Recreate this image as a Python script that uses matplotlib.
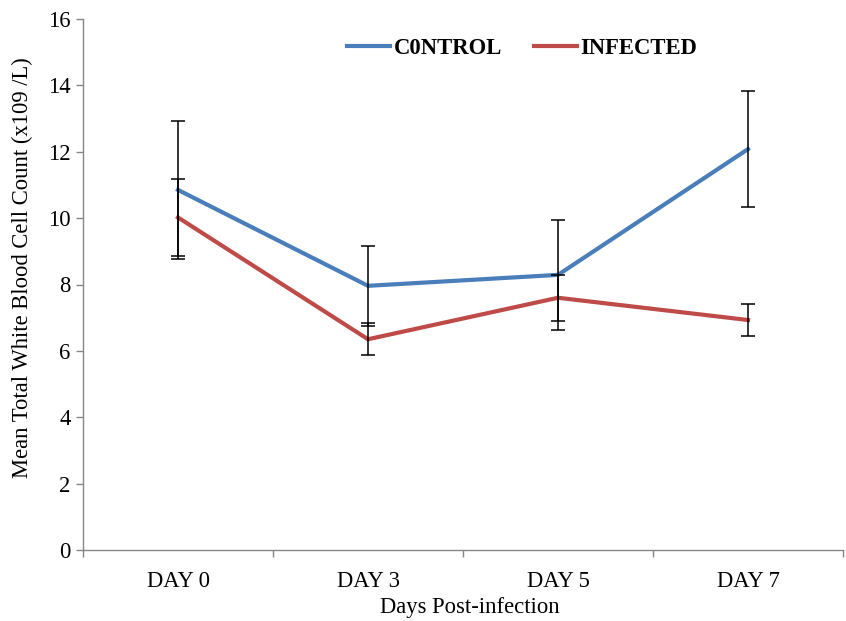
import numpy as np
import matplotlib.pyplot as plt

plt.rcParams['font.family'] = ['Liberation Serif', 'DejaVu Serif']

# data
days = ['DAY 0', 'DAY 3', 'DAY 5', 'DAY 7']
control = [10.85, 7.96, 8.29, 12.08]
control_err = [2.07, 1.20, 1.65, 1.74]
infected = [10.02, 6.35, 7.60, 6.93]
infected_err = [1.16, 0.48, 0.69, 0.47]

blue = '#4A7EBB'
red = '#BE4B48'
grey = '#868686'
fs = 16.3

fig = plt.figure(figsize=(8.46, 6.21), dpi=100)
ax = fig.add_axes([83 / 846, 71 / 621, 760 / 846, 531 / 621])

x = np.arange(len(days))

ax.plot(x, control, color=blue, lw=3, label='C0NTROL', zorder=3)
ax.plot(x, infected, color=red, lw=3, label='INFECTED', zorder=3)
ax.errorbar(x, control, yerr=control_err, fmt='none', ecolor='black',
            elinewidth=1.1, capsize=5, capthick=1.1, zorder=4)
ax.errorbar(x, infected, yerr=infected_err, fmt='none', ecolor='black',
            elinewidth=1.1, capsize=5, capthick=1.1, zorder=4)

ax.set_xlim(-0.5, len(days) - 0.5)
ax.set_ylim(0, 16)
ax.set_yticks(range(0, 17, 2))

# category labels centred, tick marks on boundaries
ax.set_xticks(x)
ax.set_xticklabels(days, fontsize=fs)
ax.tick_params(axis='x', which='major', length=0, pad=15)
ax.set_xticks(np.arange(-0.5, len(days)), minor=True)
ax.tick_params(axis='x', which='minor', length=5, color=grey, width=1)
ax.tick_params(axis='y', length=5, color=grey, width=1, labelsize=fs, pad=4)

for s in ['top', 'right']:
    ax.spines[s].set_visible(False)
for s in ['left', 'bottom']:
    ax.spines[s].set_color(grey)
    ax.spines[s].set_linewidth(1)

ax.set_xlabel('Days Post-infection', fontsize=fs)
ax.set_ylabel('Mean Total White Blood Cell Count (x109 /L)', fontsize=fs)
ax.xaxis.set_label_coords(0.509, -0.088)
ax.yaxis.set_label_coords(-0.066, 0.531)

ax.legend(loc='center', bbox_to_anchor=(522 / 846, 1 - 48 / 621),
          bbox_transform=fig.transFigure, ncol=2, frameon=False,
          handlelength=1.9, handletextpad=0.15, columnspacing=1.4,
          prop={'weight': 'bold', 'size': fs})

fig.savefig('out.png', dpi=100)
